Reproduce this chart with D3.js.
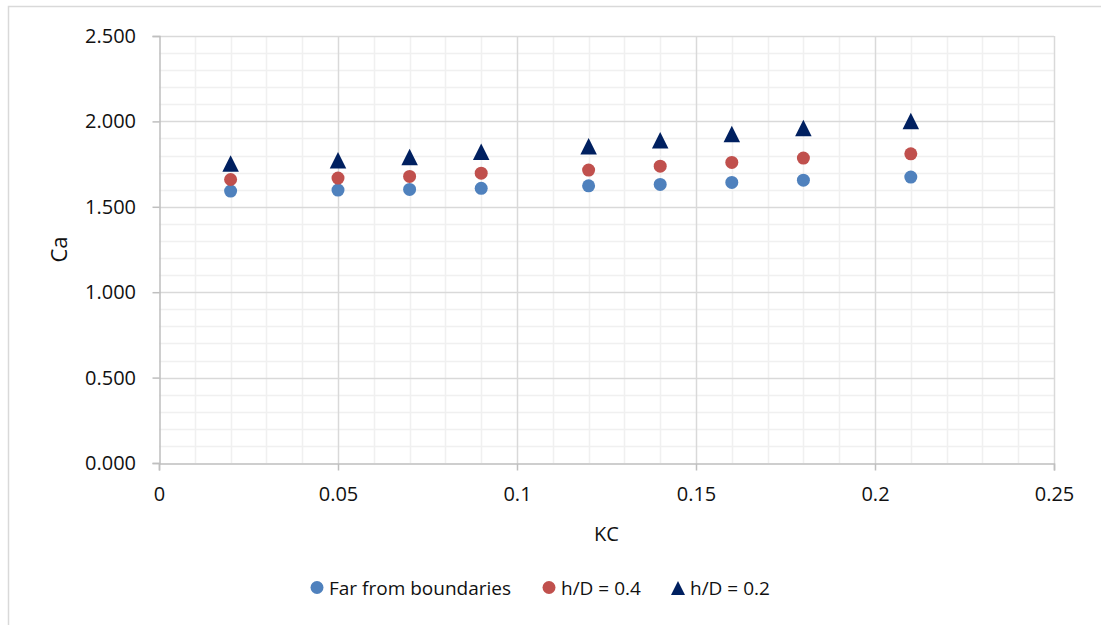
<!DOCTYPE html>
<html><head><meta charset="utf-8">
<script src="https://cdn.jsdelivr.net/npm/d3@7"></script>
<style>
body{margin:0;background:#fff;}
text{font-family:"Open Sans","Liberation Sans",sans-serif;fill:#111;}
</style></head>
<body><svg id="c" width="1101" height="625"></svg>
<script>
const kc = [0.02, 0.05, 0.07, 0.09, 0.12, 0.14, 0.16, 0.18, 0.21];
const farFromBoundaries = [1.592, 1.598, 1.602, 1.608, 1.623, 1.631, 1.643, 1.656, 1.674];
const hD04 = [1.660, 1.668, 1.678, 1.697, 1.715, 1.738, 1.760, 1.785, 1.810];
const hD02 = [1.754, 1.773, 1.792, 1.822, 1.854, 1.890, 1.926, 1.962, 2.002];
const seriesNames = ["Far from boundaries", "h/D = 0.4", "h/D = 0.2"];
const xTicks = [0, 0.05, 0.1, 0.15, 0.2, 0.25];
const yTicks = [0, 0.5, 1.0, 1.5, 2.0, 2.5];
const xLabel = "KC", yLabel = "Ca";

const svg = d3.select("#c");
// outer chart frame
svg.append("rect").attr("x",8.5).attr("y",6.5).attr("width",1200).attr("height",700)
  .attr("fill","#fff").attr("stroke","#d9d9d9").attr("stroke-width",1.5);

const L=159, R=1054, T=36, B=463;
const x = d3.scaleLinear().domain([0,0.25]).range([L,R]);
const y = d3.scaleLinear().domain([0,2.5]).range([B,T]);

const g = svg.append("g");
// minor grid
const xMinor = d3.range(1,25).map(i=>i/100).filter(v=>Math.abs(v*20-Math.round(v*20))>1e-6);
const yMinor = d3.range(1,25).map(i=>i/10).filter(v=>Math.abs(v*2-Math.round(v*2))>1e-6);
g.selectAll(".xm").data(xMinor).enter().append("line")
  .attr("x1",d=>Math.round(x(d))+0.5).attr("x2",d=>Math.round(x(d))+0.5).attr("y1",T).attr("y2",B)
  .attr("stroke","#f0f0f0").attr("stroke-width",1.5);
g.selectAll(".ym").data(yMinor).enter().append("line")
  .attr("y1",d=>Math.round(y(d))+0.5).attr("y2",d=>Math.round(y(d))+0.5).attr("x1",L).attr("x2",R)
  .attr("stroke","#f0f0f0").attr("stroke-width",1.5);
// major grid
g.selectAll(".xM").data(xTicks.slice(1)).enter().append("line")
  .attr("x1",d=>Math.round(x(d))+0.5).attr("x2",d=>Math.round(x(d))+0.5).attr("y1",T).attr("y2",B)
  .attr("stroke","#d9d9d9").attr("stroke-width",1.5);
g.selectAll(".yM").data(yTicks.slice(1)).enter().append("line")
  .attr("y1",d=>Math.round(y(d))+0.5).attr("y2",d=>Math.round(y(d))+0.5).attr("x1",L).attr("x2",R)
  .attr("stroke","#d9d9d9").attr("stroke-width",1.5);

// axes
const xAxis = d3.axisBottom(x).tickValues(xTicks).tickFormat(d=>String(d)).tickSize(7).tickPadding(10);
const yAxis = d3.axisLeft(y).tickValues(yTicks).tickFormat(d3.format(".3f")).tickSize(7).tickPadding(16.5);
const gx = svg.append("g").attr("transform",`translate(0,${B+0.5})`).call(xAxis);
const gy = svg.append("g").attr("transform",`translate(${L+0.5},0)`).call(yAxis);
[gx,gy].forEach(a=>{
  a.select(".domain").attr("stroke","#bfbfbf").attr("stroke-width",1.5);
  a.selectAll(".tick line").attr("stroke","#bfbfbf").attr("stroke-width",1.5);
  a.selectAll("text").attr("font-size",20).attr("fill","#111").attr("font-family",null);
});
gx.selectAll(".tick text").attr("y",37.5).attr("dy",0);

svg.append("text").attr("x",(L+R)/2).attr("y",541).attr("text-anchor","middle").attr("font-size",20).text(xLabel);
svg.append("text").attr("transform",`translate(67,${(T+B)/2}) rotate(-90)`).attr("text-anchor","middle").attr("font-size",22).text(yLabel);

// markers
const colors = ["#4f81bd","#c0504d","#002060"];
const tri = (cx,cy,s)=>`M${cx},${cy-s/2}L${cx+s/2},${cy+s/2}L${cx-s/2},${cy+s/2}Z`;
const pts = (vals)=>kc.map((k,i)=>({k, v:vals[i]}));
svg.append("g").selectAll("circle").data(pts(farFromBoundaries)).enter().append("circle")
  .attr("cx",d=>x(d.k)).attr("cy",d=>y(d.v)).attr("r",6.5).attr("fill",colors[0]);
svg.append("g").selectAll("circle").data(pts(hD04)).enter().append("circle")
  .attr("cx",d=>x(d.k)).attr("cy",d=>y(d.v)).attr("r",6.5).attr("fill",colors[1]);
svg.append("g").selectAll("path").data(pts(hD02)).enter().append("path")
  .attr("d",d=>tri(x(d.k),y(d.v),16.5)).attr("fill",colors[2]);

// legend
const legX = [317, 549, 678];
const lg = svg.append("g");
seriesNames.forEach((n,i)=>{
  if(i<2) lg.append("circle").attr("cx",legX[i]).attr("cy",587.5).attr("r",6.5).attr("fill",colors[i]);
  else lg.append("path").attr("d",tri(legX[i],588,14)).attr("fill",colors[i]);
  lg.append("text").attr("x",legX[i]+12).attr("y",595).attr("font-size",19).text(n);
});
</script></body></html>
